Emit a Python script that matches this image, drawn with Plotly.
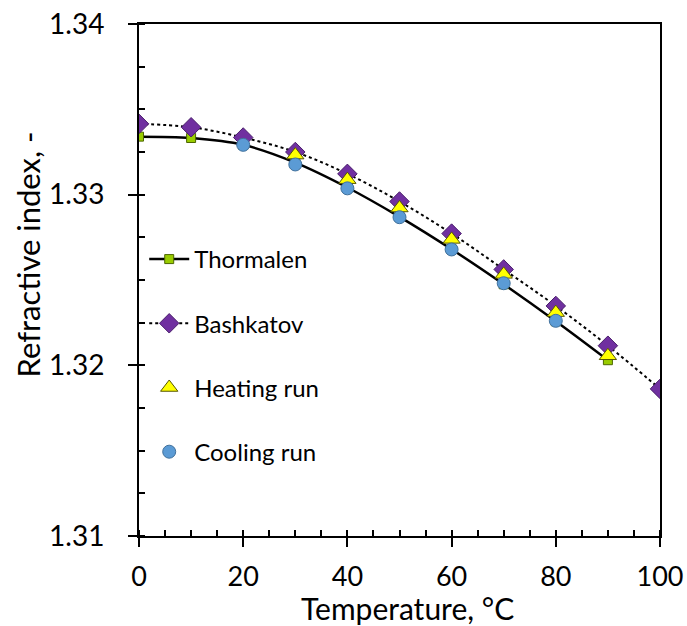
import plotly.graph_objects as go

# ---- data ----
temp_thormalen = [0, 10, 20, 30, 40, 50, 60, 70, 80, 90]
n_thormalen = [1.33340, 1.33332, 1.33292, 1.33188, 1.33042, 1.32870, 1.32680, 1.32475, 1.32258, 1.32030]

temp_bashkatov = [0, 10, 20, 30, 40, 50, 60, 70, 80, 90, 100]
n_bashkatov = [1.33415, 1.33395, 1.33335, 1.33250, 1.33122, 1.32960, 1.32772, 1.32562, 1.32348, 1.32115, 1.31862]

temp_heating = [30, 40, 50, 60, 70, 80, 90]
n_heating = [1.33232, 1.33088, 1.32922, 1.32738, 1.32533, 1.32309, 1.32056]

temp_cooling = [20, 30, 40, 50, 60, 70, 80]
n_cooling = [1.33292, 1.33177, 1.33037, 1.32868, 1.32679, 1.32481, 1.32261]

x_ticks = [0, 20, 40, 60, 80, 100]
y_ticks = [1.31, 1.32, 1.33, 1.34]
y_tick_labels = ["1.31", "1.32", "1.33", "1.34"]

x_title = "Temperature, °C"
y_title = "Refractive index, -"

FONT = "Lato"

fig = go.Figure()

fig.add_trace(go.Scatter(
    x=temp_thormalen, y=n_thormalen, name="Thormalen", mode="lines+markers",
    line=dict(color="black", width=2.5, shape="spline"),
    marker=dict(symbol="square", size=9, color="#99CC00", line=dict(color="#4d6600", width=1)),
    legendgroup="a"))
fig.add_trace(go.Scatter(
    x=temp_bashkatov, y=n_bashkatov, name="Bashkatov", mode="lines+markers",
    line=dict(color="black", width=2, dash="dot", shape="spline"),
    marker=dict(symbol="diamond", size=15, color="#7030A0", line=dict(color="#4a1f6b", width=1)),
    legendgroup="b"))
fig.add_trace(go.Scatter(
    x=temp_heating, y=n_heating, name="Heating run", mode="markers",
    marker=dict(symbol="triangle-up", size=15, color="#FFFF00", line=dict(color="#555500", width=1)),
    legendgroup="c"))
fig.add_trace(go.Scatter(
    x=temp_cooling, y=n_cooling, name="Cooling run", mode="markers",
    marker=dict(symbol="circle", size=13, color="#5B9BD5", line=dict(color="#41719C", width=1)),
    legendgroup="d"))

axis_common = dict(showgrid=False, zeroline=False, linecolor="black", linewidth=2,
                   tickcolor="black", tickwidth=2, automargin=False)

fig.update_layout(
    template="none",
    width=687, height=626,
    margin=dict(l=139, r=27, t=24, b=90, autoexpand=False),
    paper_bgcolor="white", plot_bgcolor="white",
    font=dict(family=FONT, size=28, color="black"),
    showlegend=True,
    legend=dict(x=0.01, xanchor="left", y=0.584, yanchor="top",
                bgcolor="rgba(0,0,0,0)", font=dict(size=24, family=FONT),
                traceorder="grouped", tracegroupgap=30, itemwidth=40),
    xaxis=dict(range=[0, 100], tickvals=x_ticks, ticks="outside", ticklen=9,
               mirror=True, ticklabelstandoff=7,
               minor=dict(ticks="inside", dtick=5, tick0=0, ticklen=6, tickcolor="black", tickwidth=1.5),
               tickfont=dict(size=27), **axis_common),
    yaxis=dict(range=[1.31, 1.34], tickvals=y_ticks, ticktext=y_tick_labels, ticks="outside", ticklen=9,
               mirror=True, ticklabelstandoff=18,
               minor=dict(ticks="inside", dtick=0.0025, tick0=1.31, ticklen=6, tickcolor="black", tickwidth=1.5),
               tickfont=dict(size=28), **axis_common),
    xaxis2=dict(range=[0, 100], overlaying="x", anchor="y", side="bottom", tickvals=x_ticks,
                ticks="inside", ticklen=6, showticklabels=False, showline=False, showgrid=False,
                zeroline=False, tickcolor="black", tickwidth=2, automargin=False),
    yaxis2=dict(range=[1.31, 1.34], overlaying="y", anchor="x", side="left", tickvals=y_ticks,
                ticks="inside", ticklen=6, showticklabels=False, showline=False, showgrid=False,
                zeroline=False, tickcolor="black", tickwidth=2, automargin=False),
    annotations=[
        dict(text=x_title, xref="paper", yref="paper", x=0.515, y=-0.14,
             xanchor="center", yanchor="middle", showarrow=False, font=dict(size=30)),
        dict(text=y_title, xref="paper", yref="paper", x=-0.213, y=0.55, textangle=-90,
             xanchor="center", yanchor="middle", showarrow=False, font=dict(size=31)),
    ],
)

fig.write_html("out.html")
